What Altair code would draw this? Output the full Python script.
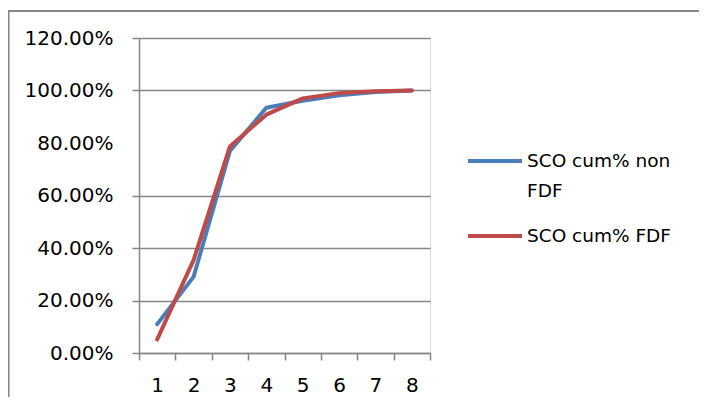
import altair as alt
import pandas as pd

# ---- data ----
categories = [1, 2, 3, 4, 5, 6, 7, 8]
series_names = ["SCO cum% non FDF", "SCO cum% FDF"]
legend_labels = [["SCO cum% non", "FDF"], ["SCO cum% FDF"]]
non_fdf = [0.110, 0.290, 0.770, 0.934, 0.961, 0.982, 0.994, 1.000]
fdf = [0.052, 0.354, 0.787, 0.908, 0.970, 0.990, 0.997, 1.000]
colors = ["#4A7EBB", "#BE4B48"]
y_ticks = [0.0, 0.2, 0.4, 0.6, 0.8, 1.0, 1.2]
x_ticks = [0.5, 1, 1.5, 2, 2.5, 3, 3.5, 4, 4.5, 5, 5.5, 6, 6.5, 7, 7.5, 8, 8.5]

rows = []
for name, vals in zip(series_names, [non_fdf, fdf]):
    for c, v in zip(categories, vals):
        rows.append({"cat": c, "value": v, "series": name})
df = pd.DataFrame(rows)

FONT = "DejaVu Sans"
GRAY = "#868686"

x_enc = alt.X(
    "cat:Q",
    scale=alt.Scale(domain=[0.5, 8.5], nice=False, zero=False),
    axis=alt.Axis(
        values=x_ticks,
        labelExpr="datum.value % 1 == 0 ? format(datum.value, 'd') : ''",
        tickOpacity={"condition": {"test": "datum.value % 1 == 0", "value": 0}, "value": 1},
        title=None,
        grid=False,
        domainColor=GRAY,
        domainWidth=1.5,
        tickColor=GRAY,
        tickWidth=1.5,
        tickSize=7,
        labelFont=FONT,
        labelFontSize=20,
        labelColor="black",
        labelPadding=15,
        labelOverlap=False,
        labelFlush=False,
    ),
)
y_enc = alt.Y(
    "value:Q",
    scale=alt.Scale(domain=[0, 1.2], nice=False),
    axis=alt.Axis(
        values=y_ticks,
        format=".2%",
        title=None,
        grid=True,
        gridColor=GRAY,
        gridWidth=1.5,
        gridOpacity={"condition": {"test": "abs(datum.value - 0.8) < 0.01", "value": 0}, "value": 1},
        tickOpacity={"condition": {"test": "abs(datum.value - 0.8) < 0.01", "value": 0}, "value": 1},
        domainColor=GRAY,
        domainWidth=1.5,
        tickColor=GRAY,
        tickWidth=1.5,
        tickSize=7,
        labelFont=FONT,
        labelFontSize=20,
        labelColor="black",
        labelPadding=19,
    ),
)
color_scale = alt.Scale(domain=series_names, range=colors)
color_enc = alt.Color("series:N", scale=color_scale, legend=None)

base = alt.Chart(df).encode(x=x_enc, y=y_enc, color=color_enc)
lines = [
    base.transform_filter(alt.datum.series == name).mark_line(
        strokeWidth=4, strokeCap="round", strokeJoin="round"
    )
    for name in series_names
]

# manual legend (Excel style: symbol next to first line of a wrapped label)
legend_rows = [123, 198]
legend_layers = []
for name, label, ly in zip(series_names, legend_labels, legend_rows):
    ldata = alt.Data(values=[{"series": name}])
    legend_layers.append(
        alt.Chart(ldata).mark_rule(strokeWidth=4, strokeCap="butt").encode(
            x=alt.value(329), x2=alt.value(383), y=alt.value(ly),
            color=alt.Color("series:N", scale=color_scale, legend=None),
        )
    )
    legend_layers.append(
        alt.Chart(ldata).mark_text(
            align="left", baseline="middle", font=FONT, fontSize=18.5,
            color="black", lineHeight=30,
        ).encode(x=alt.value(388), y=alt.value(ly), text=alt.value(label))
    )

# outer chart frame (top and left edges visible in the reference)
frame_data = alt.Data(values=[{"a": 1}])
frame_top = alt.Chart(frame_data).mark_rule(stroke=GRAY, strokeWidth=2).encode(
    x=alt.value(-131), x2=alt.value(1000), y=alt.value(-27), y2=alt.value(-27)
)
frame_left = alt.Chart(frame_data).mark_rule(stroke=GRAY, strokeWidth=2).encode(
    x=alt.value(-130.5), x2=alt.value(-130.5), y=alt.value(-28), y2=alt.value(360)
)

chart = alt.layer(frame_top, frame_left, *lines, *legend_layers).properties(
    width=291,
    height=315,
    autosize=alt.AutoSizeParams(type="none"),
    padding={"left": 131, "top": 30, "right": 269, "bottom": 44},
).configure_view(stroke=None).configure(background="white")

chart.save("out.html", embed_options={"renderer": "svg", "actions": False})
